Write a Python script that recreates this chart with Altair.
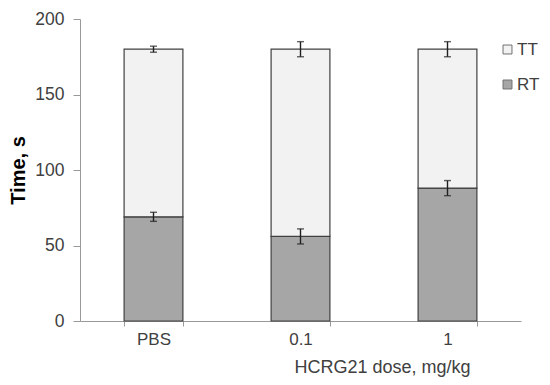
import altair as alt
import pandas as pd

groups = ["PBS", "0.1", "1"]
rt = [69, 56, 88]
rt_err = [3, 5, 5]
total = [180, 180, 180]
tt_err = [2, 5, 5]

bars = pd.DataFrame({
    "group": groups * 2,
    "series": ["RT"] * 3 + ["TT"] * 3,
    "low": [0, 0, 0] + rt,
    "high": rt + total,
    "err": rt_err + tt_err,
})
bars["elo"] = bars["high"] - bars["err"]
bars["ehi"] = bars["high"] + bars["err"]

FONT = "Liberation Sans"

x = alt.X("group:N", sort=groups, title="HCRG21 dose, mg/kg",
          scale=alt.Scale(paddingInner=0.6, paddingOuter=0.3),
          axis=alt.Axis(labelAngle=0, tickBand="extent", tickSize=5, tickColor="#999999",
                        domainColor="#999999", labelColor="#404040", labelFont=FONT,
                        labelFontSize=17, labelPadding=5, titleFont=FONT,
                        titleFontSize=18, titleFontWeight="normal", titleColor="#404040",
                        titleX=302, titleAlign="center", titlePadding=11))

y_axis = alt.Axis(values=[0, 50, 100, 150, 200], tickSize=7, tickColor="#999999",
                  domainColor="#999999", grid=False, labelColor="#404040",
                  labelFont=FONT, labelFontSize=17.5, labelPadding=9,
                  title="Time, s", titleFont=FONT, titleFontSize=20,
                  titleFontWeight="bold", titleColor="#000000", titlePadding=6)

base = alt.Chart(bars)

bar = base.mark_bar(stroke="#404040", strokeWidth=1.2).encode(
    x=x,
    y=alt.Y("low:Q", scale=alt.Scale(domain=[0, 200], nice=False), axis=y_axis),
    y2="high:Q",
    color=alt.Color("series:N",
                    scale=alt.Scale(domain=["TT", "RT"], range=["#f2f2f2", "#a6a6a6"]),
                    legend=alt.Legend(title=None, orient="none", legendX=419, legendY=22,
                                      symbolType="square", symbolSize=80,
                                      symbolStrokeColor="#707070", symbolStrokeWidth=1,
                                      labelFont=FONT, labelFontSize=17,
                                      labelColor="#404040", rowPadding=17, labelOffset=1)),
)

rule = base.mark_rule(color="#202020", strokeWidth=1.4).encode(
    x=alt.X("group:N", sort=groups), y="elo:Q", y2="ehi:Q")
cap_lo = base.mark_tick(color="#202020", size=7, thickness=1.4).encode(
    x=alt.X("group:N", sort=groups), y="elo:Q")
cap_hi = base.mark_tick(color="#202020", size=7, thickness=1.4).encode(
    x=alt.X("group:N", sort=groups), y="ehi:Q")

chart = alt.layer(bar, rule, cap_lo, cap_hi).properties(
    width=441, height=302,
    autosize=alt.AutoSizeParams(type="none"),
    padding={"left": 72, "top": 11, "right": 21, "bottom": 56},
).configure_view(stroke=None)

chart.save("out.html", embed_options={"renderer": "svg", "actions": False})
